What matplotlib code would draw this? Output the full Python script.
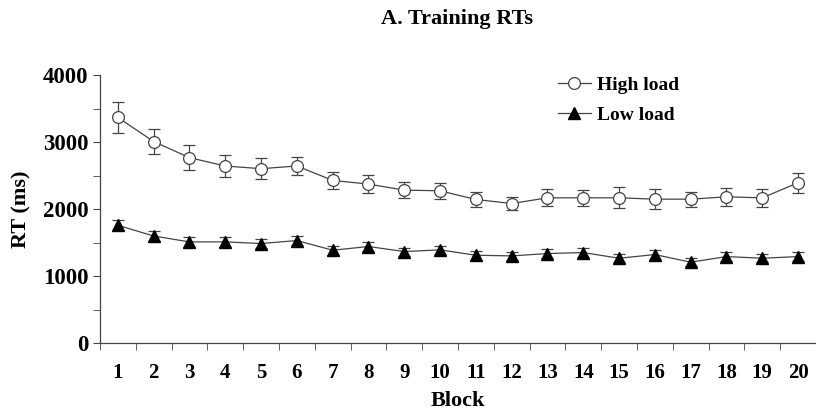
import numpy as np
import matplotlib.pyplot as plt
from matplotlib.lines import Line2D

blocks = np.arange(1, 21)
high_load = [3370, 3010, 2770, 2645, 2605, 2645, 2430, 2375, 2285, 2275,
             2145, 2085, 2170, 2170, 2170, 2150, 2150, 2185, 2170, 2395]
high_err = [225, 190, 190, 160, 160, 140, 125, 135, 120, 120,
            115, 95, 125, 115, 155, 145, 110, 130, 130, 150]
low_load = [1760, 1600, 1512, 1512, 1488, 1532, 1388, 1443, 1368, 1393,
            1313, 1303, 1338, 1353, 1268, 1323, 1209, 1293, 1268, 1293]
low_err = [75, 80, 75, 70, 65, 70, 65, 70, 60, 65,
           65, 60, 65, 70, 60, 65, 60, 65, 60, 65]

plt.rcParams['font.family'] = ['Liberation Serif', 'DejaVu Serif']
plt.rcParams['font.weight'] = 'bold'

fig = plt.figure(figsize=(8.16, 4.18), dpi=100)
ax = fig.add_axes([0.1225, 0.179, 0.8775, 0.641])

gray = '#444444'
ax.errorbar(blocks, high_load, yerr=high_err, color=gray, lw=0.9,
            marker='o', ms=8.5, mfc='white', mec=gray, mew=0.9,
            capsize=4, elinewidth=0.9, capthick=0.9, zorder=3)
ax.errorbar(blocks, low_load, yerr=low_err, color=gray, lw=0.9,
            marker='^', ms=8, mfc='black', mec='black',
            capsize=4, elinewidth=0.9, capthick=0.9, zorder=3)

ax.set_xlim(0.5, 20.5)
ax.set_ylim(0, 4000)
ax.set_xticks(blocks)
ax.set_xticks(np.arange(0.5, 20.6, 1), minor=True)
ax.tick_params(axis='x', which='major', length=0, pad=14, labelsize=15)
ax.tick_params(axis='x', which='minor', length=5, color=gray)
ax.set_yticks([0, 1000, 2000, 3000, 4000])
ax.set_yticks(np.arange(0, 4001, 500), minor=True)
ax.tick_params(axis='y', which='both', length=5, color=gray, labelsize=16.5)
for s in ['top', 'right']:
    ax.spines[s].set_visible(False)
for s in ['left', 'bottom']:
    ax.spines[s].set_color(gray)
    ax.spines[s].set_linewidth(0.9)

ax.set_xlabel('Block', fontsize=16, fontweight='bold', labelpad=6)
ax.set_ylabel('RT (ms)', fontsize=16, fontweight='bold', labelpad=8)
fig.text(0.56, 0.955, 'A. Training RTs', ha='center', va='center',
         fontsize=16, fontweight='bold')

handles = [
    Line2D([], [], color=gray, lw=0.9, marker='o', ms=8.5, mfc='white',
           mec=gray, mew=0.9),
    Line2D([], [], color=gray, lw=0.9, marker='^', ms=8, mfc='black',
           mec='black'),
]
ax.legend(handles, ['High load', 'Low load'], loc='upper left',
          bbox_to_anchor=(0.615, 1.06), frameon=False, fontsize=14,
          handlelength=1.7, handletextpad=0.3, labelspacing=0.6)

fig.savefig('out.png', dpi=100)
